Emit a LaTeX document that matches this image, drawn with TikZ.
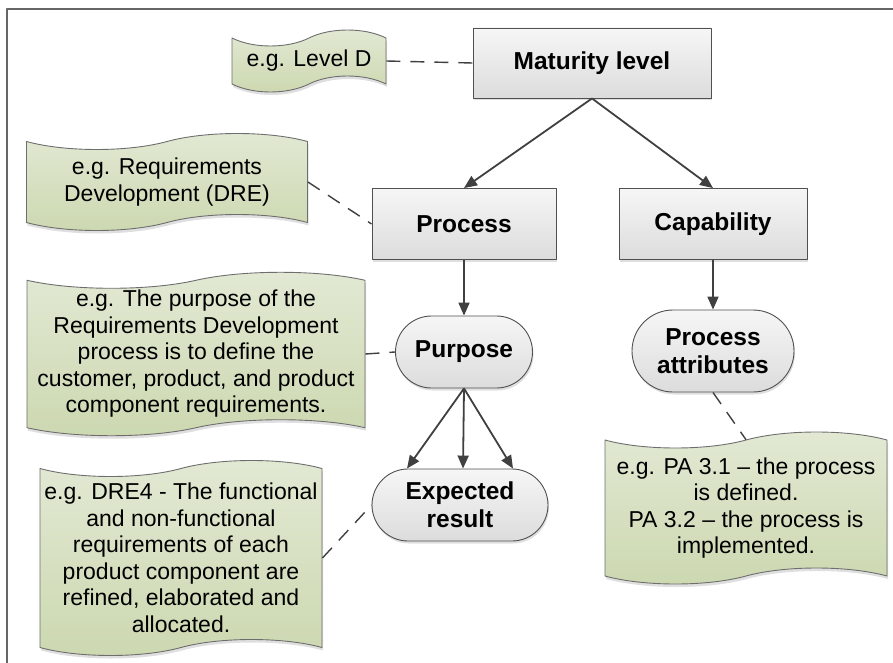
\documentclass[tikz,border=0pt]{standalone}
\usepackage{fontspec}
\setmainfont{Liberation Sans}
\usetikzlibrary{arrows.meta,shapes.symbols,shapes.misc,shadows}
\definecolor{boxline}{RGB}{80,80,80}
\definecolor{boxtop}{RGB}{246,246,246}
\definecolor{boxbot}{RGB}{220,220,220}
\definecolor{notetop}{RGB}{226,233,212}
\definecolor{notebot}{RGB}{204,216,176}
\definecolor{noteline}{RGB}{110,110,110}
\definecolor{linkgray}{RGB}{64,64,64}

\tikzset{
  levelbox/.style={rectangle, draw=boxline, line width=0.9pt, top color=boxtop, bottom color=boxbot,
    font=\fontsize{24.5}{28}\selectfont\bfseries, align=center,
    drop shadow={shadow xshift=1pt, shadow yshift=-2.5pt, opacity=0.25}},
  roundbox/.style={rounded rectangle, draw=boxline, line width=0.9pt, top color=boxtop, bottom color=boxbot,
    font=\fontsize{24.5}{28}\selectfont\bfseries, align=center, inner sep=2pt,
    drop shadow={shadow xshift=1pt, shadow yshift=-2.5pt, opacity=0.25}},
  notetape/.style={tape, tape bend height=16pt, draw=noteline, line width=0.9pt, top color=notetop, bottom color=notebot,
    font=\fontsize{23}{26.5}\selectfont, align=center, inner sep=2pt,
    drop shadow={shadow xshift=1pt, shadow yshift=-3pt, opacity=0.25}},
  link/.style={draw=linkgray, line width=1.8pt, -{Triangle[length=13pt,width=11pt]}},
  hint/.style={draw=linkgray, line width=1.4pt, dash pattern=on 14pt off 10pt},
}

\begin{document}
\begin{tikzpicture}[x=1pt,y=-1pt,line join=round]
\useasboundingbox (0,0) rectangle (893,663);
\draw[gray!80!black, line width=1.5pt] (7,663) -- (7,9) -- (893,9);

% boxes
\node[levelbox, minimum width=238pt, minimum height=70pt] (maturity) at (592,63) {Maturity level};
\node[levelbox, minimum width=184pt, minimum height=71pt] (process) at (464,224) {Process};
\node[levelbox, minimum width=188pt, minimum height=71pt] (capability) at (713,224) {Capability};
\node[roundbox, minimum width=141pt, minimum height=72pt] (purpose) at (464,352) {Purpose};
\node[roundbox, minimum width=166pt, minimum height=82pt] (attributes) at (713,351) {Process\\attributes};
\node[roundbox, minimum width=180pt, minimum height=72pt] (expected) at (460,505) {Expected\\result};

% notes
\node[notetape, minimum width=154pt, minimum height=62pt] (levelnote) at (309,61) {e.g. Level D};
\node[notetape, minimum width=281pt, minimum height=97pt] (processnote) at (167,182)
  {e.g. Requirements\\Development (DRE)};
\node[notetape, minimum width=338pt, minimum height=155pt] (purposenote) at (196,354)
  {e.g. The purpose of the\\Requirements Development\\process is to define the\\customer, product, and product\\component requirements.};
\node[notetape, minimum width=282pt, minimum height=195pt] (resultnote) at (181,558)
  {e.g. DRE4 - The functional\\and non-functional\\requirements of each\\product component are\\refined, elaborated and\\allocated.};
\node[notetape, minimum width=282pt, minimum height=152pt] (attrnote) at (746,508)
  {e.g. PA 3.1 -- the process\\is defined.\\PA 3.2 -- the process is\\implemented.};

% arrows
\draw[link] (maturity.south) -- (process.north);
\draw[link] (maturity.south) -- (capability.north);
\draw[link] (process.south) -- (purpose.north);
\draw[link] (capability.south) -- (attributes.north);
\draw[link] (purpose.south) -- ([xshift=-53pt]expected.north);
\draw[link] (purpose.south) -- ([xshift=3pt]expected.north);
\draw[link] (purpose.south) -- ([xshift=53pt]expected.north);

% dashed hints
\draw[hint] (levelnote.east) -- (maturity.west);
\draw[hint] (processnote.east) -- (process.west);
\draw[hint] (purposenote.east) -- (purpose.west);
\draw[hint] (resultnote.east) -- (expected.west);
\draw[hint] (attributes.south) -- (attrnote.north);
\end{tikzpicture}
\end{document}
